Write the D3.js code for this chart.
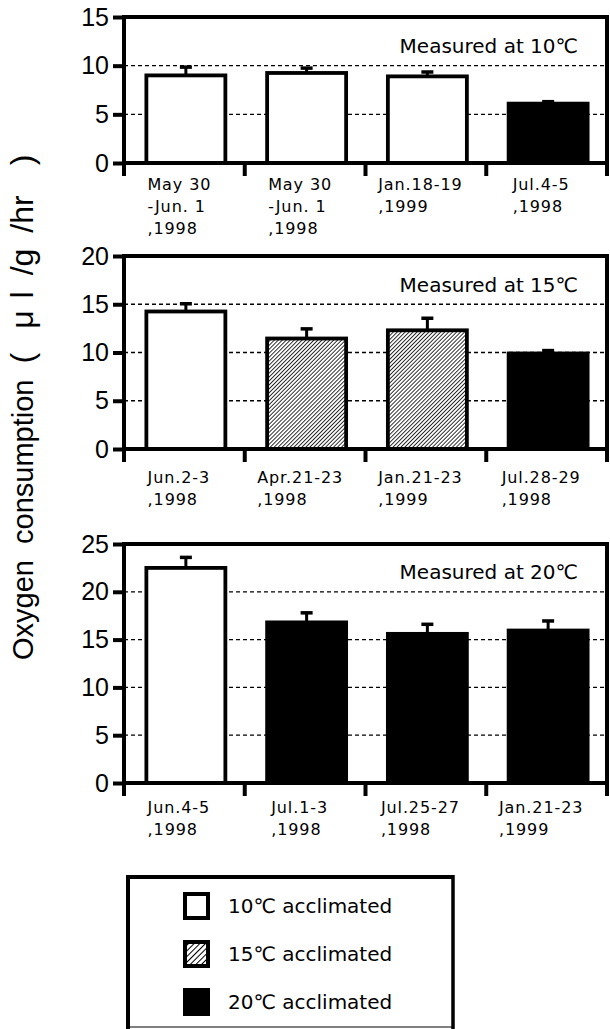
<!DOCTYPE html>
<html>
<head>
<meta charset="utf-8">
<script src="https://cdn.jsdelivr.net/npm/d3@7"></script>
<style>
  html, body { margin: 0; padding: 0; background: #fff; }
  svg { display: block; }
</style>
</head>
<body>
<svg id="chart" width="610" height="1029"></svg>
<script>
// ---- Data ----
const labels10 = [["May 30", "-Jun. 1", ",1998"], ["May 30", "-Jun. 1", ",1998"], ["Jan.18-19", ",1999"], ["Jul.4-5", ",1998"]];
const values10 = [9.0, 9.25, 8.9, 6.1];
const errors10 = [0.85, 0.5, 0.45, 0.2];
const groups10 = ["10", "10", "10", "20"];
const ticks10 = [0, 5, 10, 15];

const labels15 = [["Jun.2-3", ",1998"], ["Apr.21-23", ",1998"], ["Jan.21-23", ",1999"], ["Jul.28-29", ",1998"]];
const values15 = [14.25, 11.45, 12.3, 9.9];
const errors15 = [0.8, 1.0, 1.25, 0.3];
const groups15 = ["10", "15", "15", "20"];
const ticks15 = [0, 5, 10, 15, 20];

const labels20 = [["Jun.4-5", ",1998"], ["Jul.1-3", ",1998"], ["Jul.25-27", ",1998"], ["Jan.21-23", ",1999"]];
const values20 = [22.5, 16.8, 15.6, 15.95];
const errors20 = [1.1, 1.0, 1.0, 1.0];
const groups20 = ["10", "20", "20", "20"];
const ticks20 = [0, 5, 10, 15, 20, 25];

const panelTitles = ["Measured at 10\u2103", "Measured at 15\u2103", "Measured at 20\u2103"];
const legendKeys = ["10", "15", "20"];
const legendLabels = ["10\u2103 acclimated", "15\u2103 acclimated", "20\u2103 acclimated"];
const yTitleMain = "Oxygen  consumption";
const yTitleUnitParts = ["(", "\u03BC", "l", "/g", "/hr", ")"];

// ---- Drawing ----
const svg = d3.select("#chart");
const defs = svg.append("defs");

function hatch(id, period, lw) {
  const p = defs.append("pattern")
    .attr("id", id).attr("patternUnits", "userSpaceOnUse")
    .attr("width", period).attr("height", period)
    .attr("patternTransform", "rotate(45)");
  p.append("rect").attr("width", period).attr("height", period).attr("fill", "#fff");
  p.append("line").attr("x1", 0).attr("y1", 0).attr("x2", 0).attr("y2", period)
    .attr("stroke", "#000").attr("stroke-width", lw);
}
hatch("hatchBar", 2.8, 1.6);
hatch("hatchLeg", 4, 2);

const fillFor = (g, leg) => g === "10" ? "#fff" : g === "15" ? (leg ? "url(#hatchLeg)" : "url(#hatchBar)") : "#000";

const xLeft = 124, xRight = 607;
const panels = [
  { labels: labels10, values: values10, errors: errors10, groups: groups10, ticks: ticks10, top: 17, bottom: 163, title: panelTitles[0], titleY: 53, labelY: 190 },
  { labels: labels15, values: values15, errors: errors15, groups: groups15, ticks: ticks15, top: 256, bottom: 449, title: panelTitles[1], titleY: 292, labelY: 483 },
  { labels: labels20, values: values20, errors: errors20, groups: groups20, ticks: ticks20, top: 544, bottom: 783, title: panelTitles[2], titleY: 579, labelY: 813 }
];

panels.forEach(p => {
  const g = svg.append("g");
  const idx = p.values.map((d, i) => i);
  const x = d3.scaleBand().domain(idx).range([xLeft, xRight]).padding(0);
  const yMax = p.ticks[p.ticks.length - 1];
  const y = d3.scaleLinear().domain([0, yMax]).range([p.bottom, p.top]);
  const bw = x.bandwidth();
  const barW = 79;

  // grid lines
  g.append("g").selectAll("line")
    .data(p.ticks.filter(t => t > 0 && t < yMax))
    .join("line")
    .attr("x1", xLeft).attr("x2", xRight)
    .attr("y1", d => y(d)).attr("y2", d => y(d))
    .attr("stroke", "#000").attr("stroke-width", 1.3)
    .attr("stroke-dasharray", "4,3");

  // bars
  const cx = i => x(i) + bw / 2 + 1.5;
  g.append("g").selectAll("rect")
    .data(idx)
    .join("rect")
    .attr("x", i => cx(i) - barW / 2)
    .attr("width", barW)
    .attr("y", i => y(p.values[i]))
    .attr("height", i => y(0) - y(p.values[i]))
    .attr("fill", i => fillFor(p.groups[i], false))
    .attr("stroke", "#000").attr("stroke-width", 3.8);

  // error bars (upper only)
  const eb = g.append("g");
  eb.selectAll("line.stem").data(idx).join("line").attr("class", "stem")
    .attr("x1", i => cx(i)).attr("x2", i => cx(i))
    .attr("y1", i => y(p.values[i])).attr("y2", i => y(p.values[i] + p.errors[i]))
    .attr("stroke", "#000").attr("stroke-width", 3);
  eb.selectAll("line.cap").data(idx).join("line").attr("class", "cap")
    .attr("x1", i => cx(i) - 6).attr("x2", i => cx(i) + 6)
    .attr("y1", i => y(p.values[i] + p.errors[i])).attr("y2", i => y(p.values[i] + p.errors[i]))
    .attr("stroke", "#000").attr("stroke-width", 3.5);

  // y axis
  const ya = g.append("g").attr("transform", `translate(${xLeft},0)`)
    .call(d3.axisLeft(y).tickValues(p.ticks).tickSize(11).tickPadding(4).tickSizeOuter(0));
  ya.select(".domain").remove();
  ya.selectAll(".tick line").attr("stroke", "#000").attr("stroke-width", 4);
  ya.selectAll(".tick text").attr("font-family", "'Liberation Sans', Arial, sans-serif")
    .attr("font-size", 25).attr("fill", "#000");

  // frame & axes lines
  const fr = g.append("g").attr("stroke", "#000").attr("stroke-width", 4).attr("stroke-linecap", "square");
  fr.append("line").attr("x1", xLeft).attr("x2", xLeft).attr("y1", p.top).attr("y2", p.bottom + 11);
  fr.append("line").attr("x1", xLeft).attr("x2", xRight).attr("y1", p.bottom).attr("y2", p.bottom);
  fr.append("line").attr("x1", xLeft).attr("x2", xRight).attr("y1", p.top).attr("y2", p.top);
  fr.append("line").attr("x1", xRight).attr("x2", xRight).attr("y1", p.top).attr("y2", p.bottom + 11);
  fr.selectAll("line.bt").data(idx.slice(0, 3)).join("line").attr("class", "bt")
    .attr("x1", i => x(i) + bw).attr("x2", i => x(i) + bw)
    .attr("y1", p.bottom).attr("y2", p.bottom + 11);

  // panel title
  g.append("text").attr("x", 578).attr("y", p.titleY).attr("text-anchor", "end")
    .attr("font-family", "'DejaVu Sans', sans-serif").attr("font-size", 20).attr("fill", "#000")
    .text(p.title);

  // category labels
  idx.forEach(i => {
    const t = g.append("text")
      .attr("font-family", "'DejaVu Sans', sans-serif").attr("font-size", 16)
      .attr("letter-spacing", 0.9).attr("fill", "#000")
      .attr("y", p.labelY);
    p.labels[i].forEach((line, k) => {
      t.append("tspan").attr("x", 0).attr("dy", k === 0 ? 0 : 22).text(line);
    });
    const w = t.node().getBBox().width;
    const center = x(i) + bw / 2 - 5;
    t.attr("transform", `translate(${center - w / 2},0)`);
  });
});

// y-axis title
const yt = svg.append("g").attr("transform", "translate(33,660) rotate(-90)")
  .attr("font-family", "'Liberation Sans', Arial, sans-serif").attr("fill", "#000");
const mt = yt.append("text").attr("x", 0).attr("y", 0).attr("font-size", 29)
  .style("white-space", "pre").text(yTitleMain);
const mainLen = mt.node().getComputedTextLength();
const unitGaps = [0, 24, 12, 16, 16, 30];
const ut = yt.append("text").attr("x", mainLen + 16).attr("y", 0).attr("font-size", 32);
yTitleUnitParts.forEach((s, i) => {
  ut.append("tspan").attr("dx", unitGaps[i]).text(s);
});

// legend
const lg = svg.append("g");
lg.append("line").attr("x1", 128).attr("x2", 453).attr("y1", 877).attr("y2", 877).attr("stroke", "#000").attr("stroke-width", 4);
lg.append("line").attr("x1", 128).attr("x2", 128).attr("y1", 875).attr("y2", 1029).attr("stroke", "#000").attr("stroke-width", 4);
lg.append("line").attr("x1", 453).attr("x2", 453).attr("y1", 875).attr("y2", 1029).attr("stroke", "#000").attr("stroke-width", 3.5);
lg.append("line").attr("x1", 128).attr("x2", 453).attr("y1", 1027).attr("y2", 1027).attr("stroke", "#000").attr("stroke-width", 1.2);
const ly = d3.scalePoint().domain(legendKeys).range([906, 1002]);
legendKeys.forEach((k, i) => {
  lg.append("rect").attr("x", 185).attr("y", ly(k) - 12).attr("width", 23).attr("height", 24)
    .attr("fill", fillFor(k, true)).attr("stroke", "#000").attr("stroke-width", 4);
  lg.append("text").attr("x", 228).attr("y", ly(k)).attr("dy", "0.36em")
    .attr("font-family", "'DejaVu Sans', sans-serif").attr("font-size", 20).attr("fill", "#000")
    .text(legendLabels[i]);
});
</script>
</body>
</html>
